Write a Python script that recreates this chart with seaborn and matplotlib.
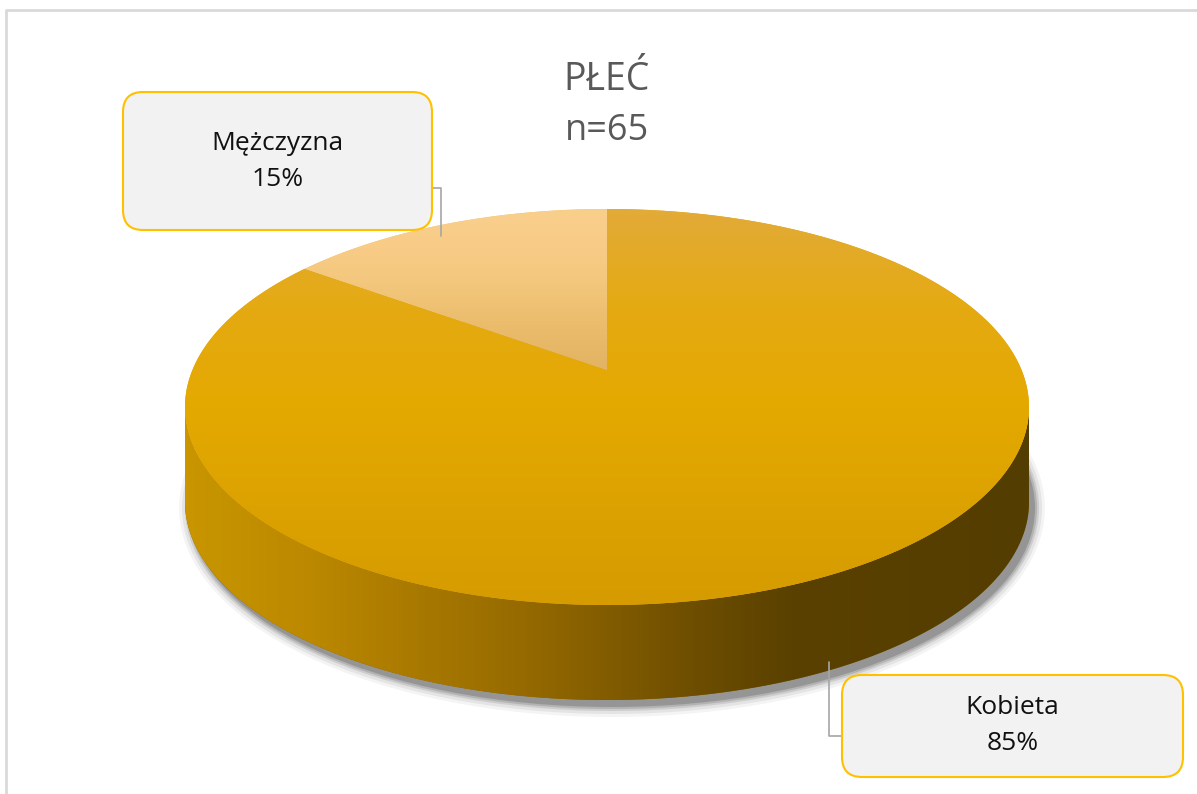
import numpy as np
import matplotlib
matplotlib.use("Agg")
import matplotlib.pyplot as plt
from matplotlib.patches import Polygon, FancyBboxPatch, Ellipse
from matplotlib.transforms import Affine2D, Transform
from matplotlib.path import Path
from matplotlib.colors import LinearSegmentedColormap
import seaborn as sns

# data
categories = ["Kobieta", "Mężczyzna"]
shares = [85, 15]
title = "PŁEĆ"
subtitle = "n=65"

sns.set_theme(style="white")
plt.rcParams["font.family"] = ["Open Sans", "DejaVu Sans"]


class Tilt(Transform):
    """perspective tilt of the unit disk (keeps the outline, moves the centre back)"""
    input_dims = output_dims = 2
    is_separable = False
    has_inverse = False

    def __init__(self, r):
        super().__init__()
        self.r = r
        self.c = np.sqrt(1 - r * r)

    def transform_non_affine(self, values):
        values = np.asarray(values, dtype=float)
        u, v = values[:, 0], values[:, 1]
        den = 1 + self.r * v
        return np.column_stack([self.c * u / den, (v + self.r) / den])

    def transform_path_non_affine(self, path):
        # flatten the bezier arcs finely before bending them
        t = np.linspace(0, 1, 60)
        verts = np.concatenate([seg(t) for seg, code in path.iter_bezier()])
        verts = np.vstack([verts, verts[:1]])
        return Path(self.transform_non_affine(verts), closed=True)


W, H = 1197, 794
fig = plt.figure(figsize=(W / 100, H / 100), dpi=100)
ax = fig.add_axes([0, 0, 1, 1])

# geometry of the "3d" pie in pixel units (y up)
cx, cy = 607, H - 407
a, b = 422, 198
depth = 95
ell = Tilt(37 / b) + Affine2D().scale(a, b).translate(cx, cy) + ax.transData

top_colors = {
    "Kobieta": ["#e2ab38", "#e5aa12", "#e4a900", "#dca200", "#d69b00"],
    "Mężczyzna": ["#f9cf8c", "#f8cc86", "#f2c67a", "#e9bb6a", "#e2b363"],
}

wedges, _ = ax.pie(shares, startangle=90, counterclock=False, radius=1,
                   center=(0, 0), colors=[top_colors[c][2] for c in categories],
                   wedgeprops=dict(linewidth=0))
ax.set_aspect("auto")
ax.axis("off")

# soft shadow under the side
for grow, al in [(11, 0.05), (8, 0.08), (5, 0.12), (3, 0.16), (1, 0.22)]:
    sh = Ellipse((cx + 5, cy - depth - 6), 2 * (a + grow), 2 * (b + grow),
                 fc="#2e2e2e", ec="none", alpha=al, zorder=0.5)
    ax.add_patch(sh)

# side band (front half of the cylinder)
th = np.linspace(np.pi, 2 * np.pi, 300)
xs = cx + a * np.cos(th)
ys = cy + b * np.sin(th)
side_pts = np.vstack([np.column_stack([xs, ys]),
                      np.column_stack([xs[::-1], ys[::-1] - depth])])
side = Polygon(side_pts, closed=True, fc="#8a6200", ec="none", zorder=1)
ax.add_patch(side)
side_cmap = LinearSegmentedColormap.from_list(
    "side", [(0, "#c99600"), (0.15, "#bb8800"), (0.4, "#966a00"),
             (0.6, "#6e4e00"), (0.72, "#5a4100"), (1, "#543d00")])
grad = np.linspace(0, 1, 256).reshape(1, -1)
im = ax.imshow(grad, cmap=side_cmap, aspect="auto",
               extent=[cx - a, cx + a, cy - b - depth, cy], zorder=1.1)
im.set_clip_path(side)

# top face with vertical gradient per slice
for w, cat in zip(wedges, categories):
    w.set_transform(ell)
    w.set_zorder(2)
    cm = LinearSegmentedColormap.from_list(cat, top_colors[cat])
    y_lo = cy + 37 if cat == "Mężczyzna" else cy - b
    g = ax.imshow(np.linspace(0, 1, 256).reshape(-1, 1), cmap=cm, aspect="auto",
                  extent=[cx - a, cx + a, y_lo, cy + b], origin="upper", zorder=2.1)
    g.set_clip_path(w)
ax.set_xlim(0, W)
ax.set_ylim(0, H)

# title
ax.text(607, H - 80, title, ha="center", va="center", fontsize=27, color="#595959")
ax.text(607, H - 131, subtitle, ha="center", va="center", fontsize=26, color="#595959")

# callout boxes
boxes = {
    "Mężczyzna": (123, H - 230, 309, 138),
    "Kobieta": (842, H - 777, 341, 102),
}
leaders = {
    "Mężczyzna": ([432, 441, 441], [H - 188, H - 188, H - 236]),
    "Kobieta": ([829, 829, 842], [H - 662, H - 736, H - 736]),
}
for cat, val in zip(categories, shares):
    x0, y0, bw, bh = boxes[cat]
    lx, ly = leaders[cat]
    ax.plot(lx, ly, color="#a6a6a6", lw=1.2, zorder=3)
    box = FancyBboxPatch((x0, y0), bw, bh, boxstyle="round,pad=0,rounding_size=20",
                         fc="#f2f2f2", ec="#ffc000", lw=1.5, zorder=4)
    ax.add_patch(box)
    mx, my = x0 + bw / 2, y0 + bh / 2
    ax.text(mx, my + 18, cat, ha="center", va="center", fontsize=19, color="#111111", zorder=5)
    ax.text(mx, my - 18, f"{val}%", ha="center", va="center", fontsize=19, color="#111111", zorder=5)

# chart area border
ax.plot([6, 6, W + 5], [-5, H - 10, H - 10], color="#d9d9d9", lw=2, zorder=6,
        solid_capstyle="butt")

fig.savefig("out.png", dpi=100)
